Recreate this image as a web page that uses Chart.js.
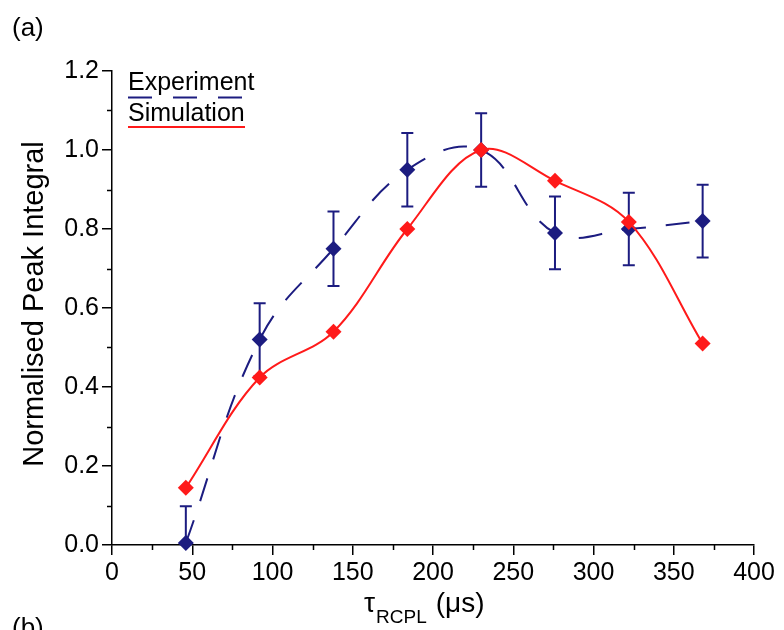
<!DOCTYPE html>
<html>
<head>
<meta charset="utf-8">
<title>Normalised Peak Integral</title>
<script src="https://cdn.jsdelivr.net/npm/chart.js@4.4.1/dist/chart.umd.min.js"></script>
<style>
  html, body { margin: 0; padding: 0; background: #fff; }
  #wrap { width: 784px; height: 630px; position: relative; }
</style>
</head>
<body>
<div id="wrap"><canvas id="peakChart"></canvas></div>
<script>
// Data (tau in microseconds)
const tauValues = [46, 92, 138, 184, 230, 276, 322, 368];
const experimentValues = [0.005, 0.52, 0.75, 0.95, 1.0, 0.79, 0.80, 0.82];
const experimentErrors = [0.093, 0.092, 0.094, 0.093, 0.093, 0.092, 0.092, 0.092];
const simulationValues = [0.145, 0.424, 0.54, 0.80, 1.0, 0.922, 0.818, 0.51];

// Axis ticks
const xTicks = [0, 50, 100, 150, 200, 250, 300, 350, 400];
const xMinorTicks = [25, 75, 125, 175, 225, 275, 325, 375];
const yTicks = [0, 0.2, 0.4, 0.6, 0.8, 1.0, 1.2];
const yMinorTicks = [0.1, 0.3, 0.5, 0.7, 0.9, 1.1];

const NAVY = '#1c1c80';
const RED = '#ff1a1a';
const FONT = '"Liberation Sans", Arial, sans-serif';

// error bars for the experiment series, drawn under the markers (clipped to the axes)
const errorBarPlugin = {
    id: 'errorBars',
    beforeDatasetsDraw(chart) {
        const ctx = chart.ctx;
        const area = chart.chartArea;
        const xs = chart.scales.x, ys = chart.scales.y;
        ctx.save();
        ctx.beginPath();
        ctx.rect(area.left, area.top - 30, area.right - area.left, area.bottom - area.top + 30);
        ctx.clip();
        ctx.strokeStyle = NAVY;
        ctx.lineWidth = 2;
        tauValues.forEach((t, i) => {
            const px = xs.getPixelForValue(t);
            const top = ys.getPixelForValue(experimentValues[i] + experimentErrors[i]);
            const bot = ys.getPixelForValue(experimentValues[i] - experimentErrors[i]);
            ctx.beginPath();
            ctx.moveTo(px, top); ctx.lineTo(px, bot);
            ctx.moveTo(px - 6, top); ctx.lineTo(px + 6, top);
            ctx.moveTo(px - 6, bot); ctx.lineTo(px + 6, bot);
            ctx.stroke();
        });
        ctx.restore();
    }
};

// minor ticks, legend, axis titles and panel letters
const decorPlugin = {
    id: 'decor',
    afterDraw(chart) {
        const ctx = chart.ctx;
        const area = chart.chartArea;
        const xs = chart.scales.x, ys = chart.scales.y;
        ctx.save();

        // minor ticks
        ctx.strokeStyle = '#000';
        ctx.lineWidth = 1.5;
        ctx.beginPath();
        xMinorTicks.forEach(v => {
            const px = Math.round(xs.getPixelForValue(v)) + 0.5;
            ctx.moveTo(px, area.bottom); ctx.lineTo(px, area.bottom + 5);
        });
        yMinorTicks.forEach(v => {
            const py = Math.round(ys.getPixelForValue(v)) + 0.5;
            ctx.moveTo(area.left, py); ctx.lineTo(area.left - 5, py);
        });
        ctx.stroke();

        // legend (text with the line sample underneath)
        const lx = area.left + 16;
        ctx.fillStyle = '#000';
        ctx.font = '25px ' + FONT;
        ctx.textAlign = 'left';
        ctx.textBaseline = 'alphabetic';
        ctx.fillText('Experiment', lx, 90);
        ctx.fillText('Simulation', lx, 121);
        ctx.lineWidth = 2;
        ctx.strokeStyle = NAVY;
        ctx.setLineDash([24, 21]);
        ctx.beginPath(); ctx.moveTo(lx, 97.5); ctx.lineTo(lx + 116, 97.5); ctx.stroke();
        ctx.setLineDash([]);
        ctx.strokeStyle = RED;
        ctx.beginPath(); ctx.moveTo(lx, 127); ctx.lineTo(lx + 117, 127); ctx.stroke();

        // y axis title
        ctx.save();
        ctx.translate(43, 304);
        ctx.rotate(-Math.PI / 2);
        ctx.textAlign = 'center';
        ctx.font = '29px ' + FONT;
        ctx.fillText('Normalised Peak Integral', 0, 0);
        ctx.restore();

        // x axis title: tau with subscript RCPL
        let tx = 364;
        ctx.font = '28px ' + FONT;
        ctx.fillText('\u03C4', tx, 612);
        tx += ctx.measureText('\u03C4').width + 1;
        ctx.font = '19px ' + FONT;
        ctx.fillText('RCPL', tx, 623);
        tx += ctx.measureText('RCPL').width + 9;
        ctx.font = '28px ' + FONT;
        ctx.fillText('(\u03BCs)', tx, 612);

        // panel letters
        ctx.font = '26px ' + FONT;
        ctx.fillText('(a)', 12, 36);
        ctx.fillText('(b)', 12, 636);

        ctx.restore();
    }
};

const axisGrid = {
    drawOnChartArea: false,
    drawTicks: true,
    tickLength: 10,
    color: '#000',
    lineWidth: 1.5
};

new Chart(document.getElementById('peakChart'), {
    type: 'line',
    data: {
        datasets: [
            {
                label: 'Simulation',
                data: tauValues.map((t, i) => ({ x: t, y: simulationValues[i] })),
                borderColor: RED,
                backgroundColor: RED,
                borderWidth: 2,
                tension: 0.35,
                pointStyle: 'rectRot',
                pointRadius: 8,
                pointHoverRadius: 8,
                pointBorderWidth: 0,
                clip: false,
                order: 1
            },
            {
                label: 'Experiment',
                data: tauValues.map((t, i) => ({ x: t, y: experimentValues[i] })),
                borderColor: NAVY,
                backgroundColor: NAVY,
                borderWidth: 2,
                borderDash: [24, 20],
                tension: 0.4,
                pointStyle: 'rectRot',
                pointRadius: 8,
                pointHoverRadius: 8,
                pointBorderWidth: 0,
                clip: false,
                order: 2
            }
        ]
    },
    options: {
        responsive: true,
        maintainAspectRatio: false,
        animation: false,
        events: [],
        layout: { padding: { top: 71, right: 30, left: 0, bottom: 0 } },
        plugins: {
            legend: { display: false },
            tooltip: { enabled: false }
        },
        scales: {
            x: {
                type: 'linear',
                min: 0,
                max: 400,
                grid: axisGrid,
                border: { display: true, color: '#000', width: 1.5 },
                afterBuildTicks: s => { s.ticks = xTicks.map(v => ({ value: v })); },
                afterFit: s => { s.height = 85; },
                ticks: {
                    color: '#000',
                    padding: 3,
                    maxRotation: 0,
                    font: { family: FONT, size: 25 }
                }
            },
            y: {
                type: 'linear',
                min: 0,
                max: 1.2,
                grid: axisGrid,
                border: { display: true, color: '#000', width: 1.5 },
                afterBuildTicks: s => { s.ticks = yTicks.map(v => ({ value: v })); },
                afterFit: s => { s.width = 112; },
                ticks: {
                    color: '#000',
                    padding: 3,
                    font: { family: FONT, size: 25 },
                    callback: v => Number(v).toFixed(1)
                }
            }
        }
    },
    plugins: [errorBarPlugin, decorPlugin]
});
</script>
</body>
</html>
